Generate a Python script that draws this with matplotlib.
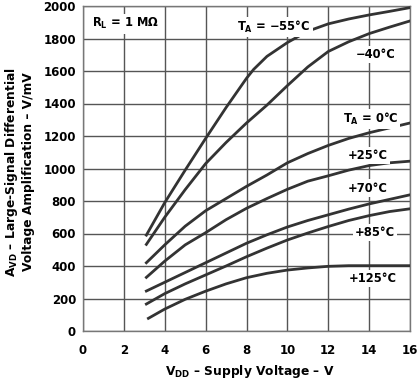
import matplotlib
matplotlib.use("Agg")
import matplotlib.pyplot as plt
import numpy as np

plt.rcParams['font.family'] = ['DejaVu Sans']
plt.rcParams['font.weight'] = 'bold'
plt.rcParams['mathtext.fontset'] = 'custom'
plt.rcParams['mathtext.rm'] = 'DejaVu Sans:bold'
plt.rcParams['mathtext.default'] = 'rm'

vdd_m55 = [3.1, 4, 5, 6, 7, 8, 8.35, 9, 10, 11, 12, 13, 14, 15, 16]
avd_m55 = [590, 790, 990, 1185, 1375, 1555, 1610, 1690, 1775, 1845, 1890, 1920, 1945, 1967, 1990]
vdd = [3.1, 4, 5, 6, 7, 8, 9, 10, 11, 12, 13, 14, 15, 16]
avd_m40 = [533, 700, 870, 1030, 1160, 1280, 1390, 1510, 1625, 1720, 1780, 1830, 1870, 1908]
avd_0 = [420, 530, 645, 740, 815, 890, 960, 1035, 1092, 1142, 1185, 1220, 1250, 1280]
avd_25 = [330, 430, 530, 605, 685, 755, 815, 872, 922, 955, 990, 1018, 1035, 1045]
avd_70 = [246, 300, 360, 420, 480, 540, 592, 640, 680, 715, 750, 782, 810, 838]
avd_85 = [166, 230, 290, 345, 400, 457, 510, 560, 603, 643, 680, 710, 735, 752]
vdd_125 = [3.2, 4, 5, 6, 7, 8, 9, 10, 11, 12, 13, 14, 15, 16]
avd_125 = [78, 135, 195, 245, 290, 328, 355, 375, 388, 398, 402, 402, 402, 402]

xticks = [0, 2, 4, 6, 8, 10, 12, 14, 16]
yticks = [0, 200, 400, 600, 800, 1000, 1200, 1400, 1600, 1800, 2000]

fig = plt.figure(figsize=(4.17, 3.78), dpi=100)
ax = fig.add_axes([83/417, 1-331/378, 327/417, 325/378])

line_color = '#333333'
ax.plot(vdd_m55, avd_m55, color=line_color, lw=2.0, zorder=3)
for y in [avd_m40, avd_0, avd_25, avd_70, avd_85]:
    ax.plot(vdd, y, color=line_color, lw=2.0, zorder=3)
ax.plot(vdd_125, avd_125, color=line_color, lw=2.0, zorder=3)

ax.set_xlim(0, 16)
ax.set_ylim(0, 2000)
ax.set_xticks(xticks)
ax.set_yticks(yticks)
ax.set_xticklabels([str(v) for v in xticks])
ax.set_yticklabels([str(v) for v in yticks])
ax.tick_params(length=0, labelsize=8.5, colors='black')
ax.tick_params(axis='x', pad=9)
ax.tick_params(axis='y', pad=5)
for lab in ax.get_xticklabels() + ax.get_yticklabels():
    lab.set_fontweight('bold')
ax.grid(True, color='#555555', lw=1.0, zorder=1)
for s in ax.spines.values():
    s.set_color('#777777')
    s.set_linewidth(1.0)

bb = dict(facecolor='white', edgecolor='none', pad=1.5)
fs = 8.3
ax.text(0.45, 1890, r'R$_\mathregular{L}$ = 1 MΩ', fontsize=fs, ha='left', va='center', bbox=bb, zorder=4)
ax.text(7.55, 1870, r'T$_\mathregular{A}$ = −55°C', fontsize=fs, ha='left', va='center', bbox=bb, zorder=4)
ax.text(13.35, 1700, '−40°C', fontsize=fs, ha='left', va='center', bbox=bb, zorder=4)
ax.text(12.7, 1305, r'T$_\mathregular{A}$ = 0°C', fontsize=fs, ha='left', va='center', bbox=bb, zorder=4)
ax.text(12.95, 1080, '+25°C', fontsize=fs, ha='left', va='center', bbox=bb, zorder=4)
ax.text(12.95, 880, '+70°C', fontsize=fs, ha='left', va='center', bbox=bb, zorder=4)
ax.text(13.3, 605, '+85°C', fontsize=fs, ha='left', va='center', bbox=bb, zorder=4)
ax.text(13.0, 325, '+125°C', fontsize=fs, ha='left', va='center', bbox=bb, zorder=4)

fig.text(250/417, 1-371/378, r'V$_\mathregular{DD}$ – Supply Voltage – V', fontsize=8.8,
         ha='center', va='center', fontweight='bold')
fig.text(19/417, 1-172/378, 'A$_\\mathregular{VD}$ – Large-Signal Differential\nVoltage Amplification – V/mV',
         fontsize=8.8, ha='center', va='center', rotation=90, multialignment='center',
         fontweight='bold', linespacing=1.2)

fig.savefig('out.png', dpi=100)
